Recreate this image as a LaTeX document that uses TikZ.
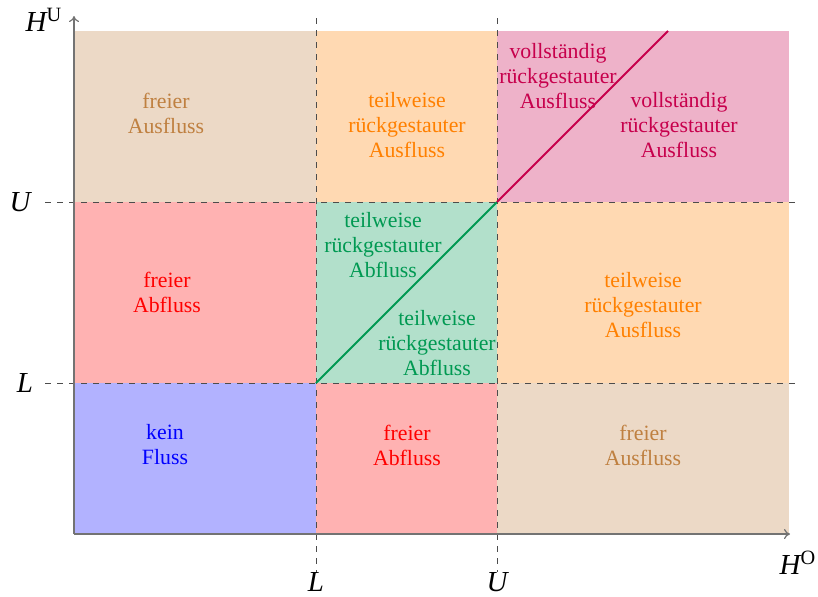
\documentclass[tikz,border=0pt]{standalone}
\usepackage{fontspec}
\setmainfont{Liberation Serif}
\usetikzlibrary{arrows.meta}
\definecolor{cbrown}{rgb}{0.75,0.5,0.25}
\definecolor{cred}{rgb}{1,0,0}
\definecolor{cblue}{rgb}{0,0,1}
\definecolor{corange}{rgb}{1,0.5,0}
\definecolor{cgreen}{rgb}{0,0.6,0.32}
\definecolor{cpurple}{rgb}{0.78,0,0.3}
\begin{document}
\begin{tikzpicture}[x=0.5pt,y=-0.5pt,
  lbl/.style={align=center,font=\fontsize{10.9}{12.5}\selectfont,inner sep=0pt},
  axlbl/.style={font=\fontsize{14.5}{16}\selectfont,inner sep=0pt},
  grid/.style={draw=black!70,dashed,line width=0.5pt},
  axis/.style={draw=black!55,line width=0.6pt,-{To[length=3pt,width=5pt]}},
  diag/.style={line width=1pt}]
\useasboundingbox (0,0) rectangle (818,596);
% fills
\fill[cbrown!30] (74,31) rectangle (316,202);
\fill[corange!30] (316,31) rectangle (497,202);
\fill[cpurple!30] (497,31) rectangle (789,202);
\fill[cred!30] (74,202) rectangle (316,383);
\fill[cgreen!30] (316,202) rectangle (497,383);
\fill[corange!30] (497,202) rectangle (789,383);
\fill[cblue!30] (74,383) rectangle (316,534);
\fill[cred!30] (316,383) rectangle (497,534);
\fill[cbrown!30] (497,383) rectangle (789,534);
% dashed grid
\coordinate (vL1) at (316,18); \coordinate (vL2) at (316,572);
\coordinate (vU1) at (497,18); \coordinate (vU2) at (497,572);
\coordinate (hU1) at (45,202); \coordinate (hU2) at (800,202);
\coordinate (hL1) at (45,383); \coordinate (hL2) at (800,383);
\draw[grid] (vL1) -- (vL2);
\draw[grid] (vU1) -- (vU2);
\draw[grid] (hU1) -- (hU2);
\draw[grid] (hL1) -- (hL2);
% diagonals
\coordinate (LL) at (316,383);
\coordinate (UU) at (497,202);
\coordinate (top) at (668,31);
\draw[diag,cgreen] (LL) -- (UU);
\draw[diag,cpurple] (UU) -- (top);
% axes
\coordinate (O) at (74,534);
\coordinate (xe) at (790,534);
\coordinate (ye) at (74,16);
\draw[axis] (O) -- (xe);
\draw[axis] (O) -- (ye);
% axis labels
\node[axlbl] (HU) at (44,20) {$\mathit{H}^{\mathrm{U}}$};
\node[axlbl] (HO) at (798,563) {$\mathit{H}^{\mathrm{O}}$};
\node[axlbl] (xL) at (316,582) {$\mathit{L}$};
\node[axlbl] (xU) at (497,582) {$\mathit{U}$};
\node[axlbl] (yU) at (20,202) {$\mathit{U}$};
\node[axlbl] (yL) at (25,383) {$\mathit{L}$};
% region labels
\node[lbl,text=cbrown] (t1) at (166,113) {freier\\Ausfluss};
\node[lbl,text=corange] (t2) at (407,125) {teilweise\\rückgestauter\\Ausfluss};
\node[lbl,text=cpurple] (t3) at (558,76) {vollständig\\rückgestauter\\Ausfluss};
\node[lbl,text=cpurple] (t4) at (679,125) {vollständig\\rückgestauter\\Ausfluss};
\node[lbl,text=cred] (t5) at (167,292) {freier\\Abfluss};
\node[lbl,text=cgreen] (t6) at (383,245) {teilweise\\rückgestauter\\Abfluss};
\node[lbl,text=cgreen] (t7) at (437,343) {teilweise\\rückgestauter\\Abfluss};
\node[lbl,text=corange] (t8) at (643,305) {teilweise\\rückgestauter\\Ausfluss};
\node[lbl,text=cblue] (t9) at (165,445) {kein\\Fluss};
\node[lbl,text=cred] (t10) at (407,445) {freier\\Abfluss};
\node[lbl,text=cbrown] (t11) at (643,445) {freier\\Ausfluss};
\end{tikzpicture}
\end{document}
